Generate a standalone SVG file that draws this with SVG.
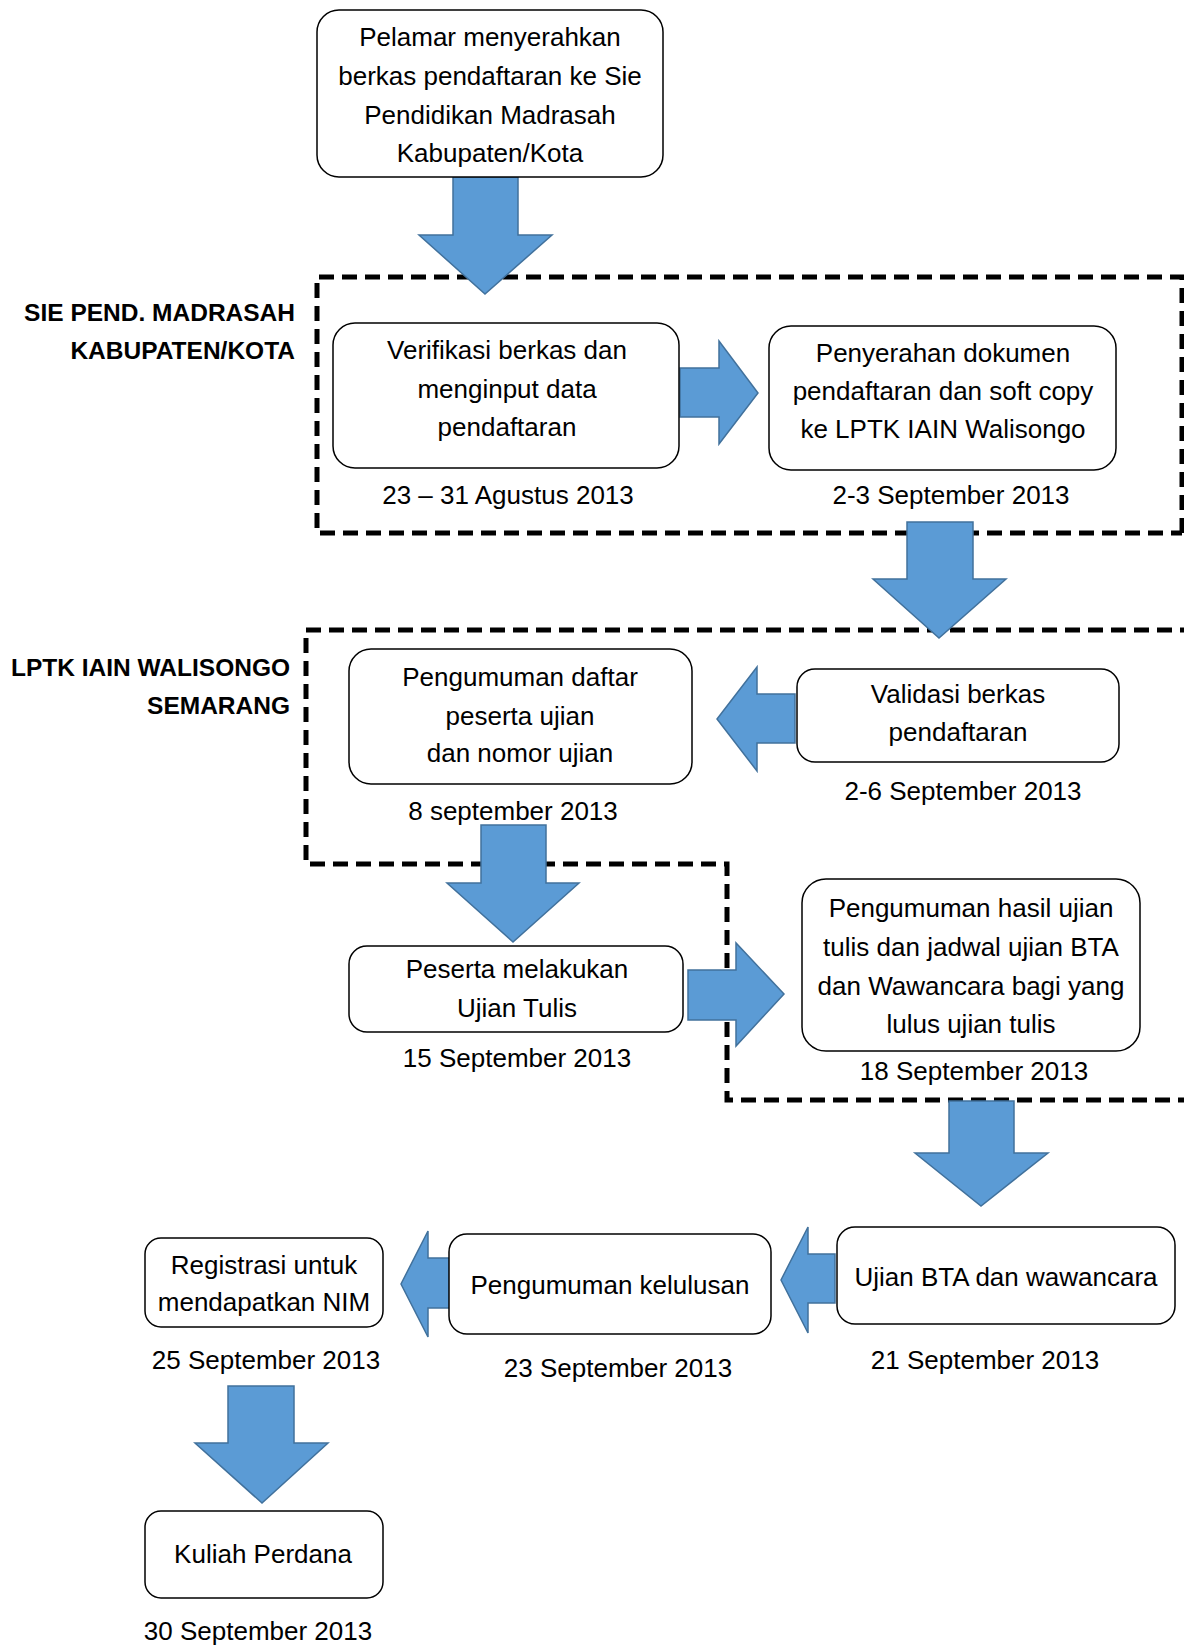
<svg xmlns="http://www.w3.org/2000/svg" width="1184" height="1646" viewBox="0 0 1184 1646">
<style>
.box{fill:#fff;stroke:#000;stroke-width:1.5}
.t{font-family:"Liberation Sans",Arial,sans-serif;font-size:26px;fill:#000;text-anchor:middle}
.lbl{font-family:"Liberation Sans",Arial,sans-serif;font-size:24.5px;font-weight:bold;fill:#000;text-anchor:end}
.arr{fill:#5B9BD5;stroke:#41719C;stroke-width:1.5;stroke-linejoin:miter}
.frame{fill:none;stroke:#000;stroke-width:5;stroke-dasharray:15 8}
</style>
<rect width="1184" height="1646" fill="#fff"/>
<g id="frames">
<path class="frame" d="M1182,533 V277 H317 V533 H1182"/>
<path class="frame" d="M1195,630 H306 V864 H727 V1100 H1195"/>
</g>
<g id="labels">
<text class="lbl" x="295" y="321">SIE PEND. MADRASAH</text>
<text class="lbl" x="295" y="359">KABUPATEN/KOTA</text>
<text class="lbl" x="290" y="676">LPTK IAIN WALISONGO</text>
<text class="lbl" x="290" y="714">SEMARANG</text>
</g>
<g id="connectors">
<polygon class="arr" points="453,177 518,177 518,235 552,235 485,294 419,235 453,235"/>
<polygon class="arr" points="680,368 719,368 719,341 758,393 719,444 719,417 680,417"/>
<polygon class="arr" points="907,522 973,522 973,579 1006,579 939,638 873,579 907,579"/>
<polygon class="arr" points="795,694 757,694 757,667 717,719 757,771 757,743 795,743"/>
<polygon class="arr" points="481,825 546,825 546,883 579,883 513,942 447,883 481,883"/>
<polygon class="arr" points="688,970 736,970 736,943 784,994 736,1046 736,1020 688,1020"/>
<polygon class="arr" points="949,1101 1014,1101 1014,1153 1048,1153 981,1206 915,1153 949,1153"/>
<polygon class="arr" points="835,1254 808,1254 808,1227 781,1280 808,1333 808,1303 835,1303"/>
<polygon class="arr" points="455,1258 428,1258 428,1231 401,1284 428,1337 428,1308 455,1308"/>
<polygon class="arr" points="228,1386 294,1386 294,1443 328,1443 262,1503 195,1443 228,1443"/>
</g>
<g id="n1">
<rect class="box" x="317" y="10" width="346" height="167" rx="22"/>
<text class="t" x="490" y="46">Pelamar menyerahkan</text>
<text class="t" x="490" y="85">berkas pendaftaran ke Sie</text>
<text class="t" x="490" y="124">Pendidikan Madrasah</text>
<text class="t" x="490" y="162">Kabupaten/Kota</text>
</g>
<g id="n2">
<rect class="box" x="333" y="323" width="346" height="145" rx="22"/>
<text class="t" x="507" y="359">Verifikasi berkas dan</text>
<text class="t" x="507" y="398">menginput data</text>
<text class="t" x="507" y="436">pendaftaran</text>
<text class="t" x="508" y="504">23 – 31 Agustus 2013</text>
</g>
<g id="n3">
<rect class="box" x="769" y="326" width="347" height="144" rx="22"/>
<text class="t" x="943" y="362">Penyerahan dokumen</text>
<text class="t" x="943" y="400">pendaftaran dan soft copy</text>
<text class="t" x="943" y="438">ke LPTK IAIN Walisongo</text>
<text class="t" x="951" y="504">2-3 September 2013</text>
</g>
<g id="n4">
<rect class="box" x="797" y="669" width="322" height="93" rx="18"/>
<text class="t" x="958" y="703">Validasi berkas</text>
<text class="t" x="958" y="741">pendaftaran</text>
<text class="t" x="963" y="800">2-6 September 2013</text>
</g>
<g id="n5">
<rect class="box" x="349" y="649" width="343" height="135" rx="22"/>
<text class="t" x="520" y="686">Pengumuman daftar</text>
<text class="t" x="520" y="725">peserta ujian</text>
<text class="t" x="520" y="762">dan nomor ujian</text>
<text class="t" x="513" y="820">8 september 2013</text>
</g>
<g id="n6">
<rect class="box" x="349" y="946" width="334" height="86" rx="18"/>
<text class="t" x="517" y="978">Peserta melakukan</text>
<text class="t" x="517" y="1017">Ujian Tulis</text>
<text class="t" x="517" y="1067">15 September 2013</text>
</g>
<g id="n7">
<rect class="box" x="802" y="879" width="338" height="172" rx="24"/>
<text class="t" x="971" y="917">Pengumuman hasil ujian</text>
<text class="t" x="971" y="956">tulis dan jadwal ujian BTA</text>
<text class="t" x="971" y="995">dan Wawancara bagi yang</text>
<text class="t" x="971" y="1033">lulus ujian tulis</text>
<text class="t" x="974" y="1080">18 September 2013</text>
</g>
<g id="n8">
<rect class="box" x="837" y="1227" width="338" height="97" rx="18"/>
<text class="t" x="1006" y="1286">Ujian BTA dan wawancara</text>
<text class="t" x="985" y="1369">21 September 2013</text>
</g>
<g id="n9">
<rect class="box" x="449" y="1234" width="322" height="100" rx="18"/>
<text class="t" x="610" y="1294">Pengumuman kelulusan</text>
<text class="t" x="618" y="1377">23 September 2013</text>
</g>
<g id="n10">
<rect class="box" x="145" y="1238" width="238" height="89" rx="16"/>
<text class="t" x="264" y="1274">Registrasi untuk</text>
<text class="t" x="264" y="1311">mendapatkan NIM</text>
<text class="t" x="266" y="1369">25 September 2013</text>
</g>
<g id="n11">
<rect class="box" x="145" y="1511" width="238" height="87" rx="16"/>
<text class="t" x="263" y="1563">Kuliah Perdana</text>
<text class="t" x="258" y="1640">30 September 2013</text>
</g>
</svg>
